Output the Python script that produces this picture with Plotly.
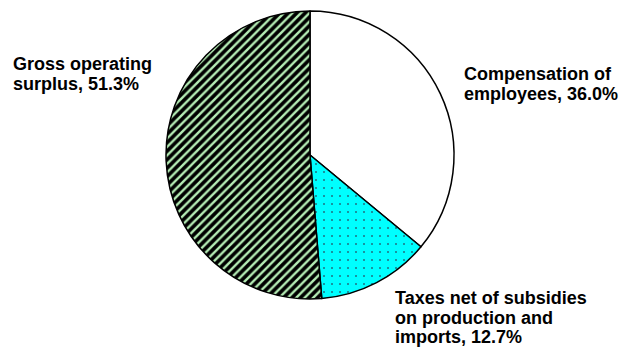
import plotly.graph_objects as go

labels = ["Compensation of employees", "Taxes net of subsidies on production and imports", "Gross operating surplus"]
values = [36.0, 12.7, 51.3]
fill_colors = ["#ffffff", "#00ffff", "#000000"]
pattern_shapes = ["", ".", "/"]
pattern_fg = ["#ffffff", "#207080", "#b4ecb4"]

label_lines = [
    ["Compensation of", "employees, 36.0%"],
    ["Taxes net of subsidies", "on production and", "imports, 12.7%"],
    ["Gross operating", "surplus, 51.3%"],
]
# left x, top y (pixels) of label block
label_pos = [(463, 63, 0), (394, 287, 0), (12, 53, 0)]

W, H = 627, 351
cx, cy, r = 310, 155, 144

fig = go.Figure(go.Pie(
    labels=labels,
    values=values,
    sort=False,
    direction="clockwise",
    rotation=0,
    textinfo="none",
    hoverinfo="label+percent",
    marker=dict(
        colors=fill_colors,
        line=dict(color="#000000", width=1.5),
        pattern=dict(shape=pattern_shapes, fgcolor=pattern_fg, bgcolor=fill_colors,
                     size=[6, 8, 6], solidity=[0.3, 0.05, 0.4], fillmode="replace"),
    ),
    domain=dict(x=[(cx - r) / W, (cx + r) / W], y=[(H - cy - r) / H, (H - cy + r) / H]),
    showlegend=False,
))

for lines, (lx, ty, _) in zip(label_lines, label_pos):
    txt = "<br>".join('<span style="font-size:18px"><b>%s</b></span>' % t for t in lines)
    fig.add_annotation(
        text=txt, x=lx / W, y=1 - ty / H,
        xref="paper", yref="paper", xanchor="left", yanchor="top", align="left",
        showarrow=False, font=dict(family="Liberation Sans, Arial, sans-serif", size=15, color="#000000"),
        borderpad=0,
    )

fig.update_layout(
    width=W, height=H, margin=dict(l=0, r=0, t=0, b=0),
    paper_bgcolor="#ffffff", plot_bgcolor="#ffffff",
)
fig.write_html("out.html")
